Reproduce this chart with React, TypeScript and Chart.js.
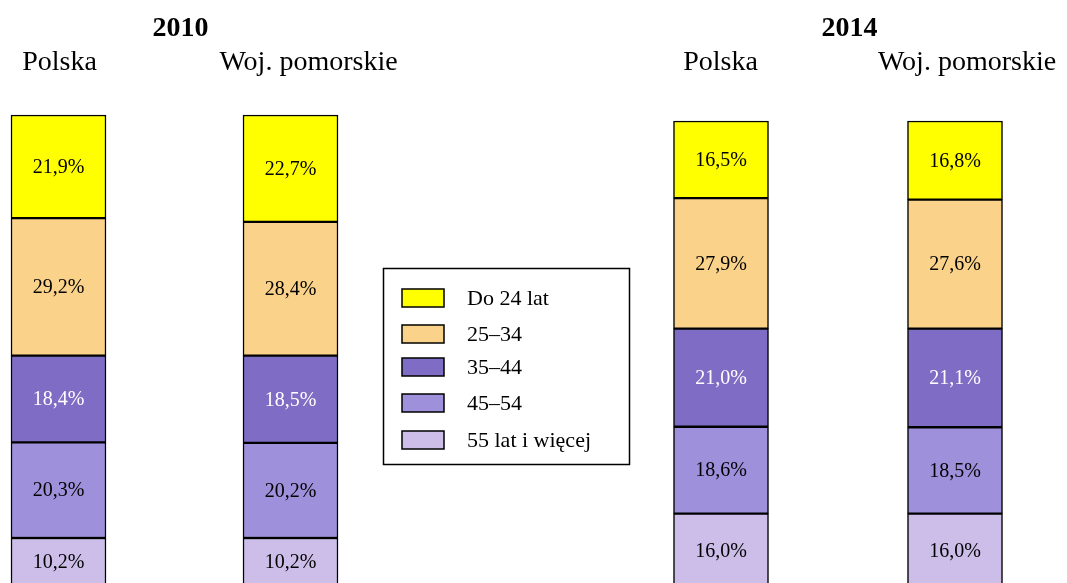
import React, { useEffect, useRef } from "react";
import { Chart, registerables } from "chart.js";

Chart.register(...registerables);

// Data
const ageGroups = ["Do 24 lat", "25–34", "35–44", "45–54", "55 lat i więcej"];
const groupColors = ["#FFFF00", "#FAD28A", "#7F6CC4", "#9E90DA", "#CCBEE8"];
const labelColors = ["#000000", "#000000", "#FFFFFF", "#000000", "#000000"];
const regions = ["Polska", "Woj. pomorskie"];
const years = ["2010", "2014"];
// values per age group: [Polska, Woj. pomorskie]
const values2010 = [
  [21.9, 22.7],
  [29.2, 28.4],
  [18.4, 18.5],
  [20.3, 20.2],
  [10.2, 10.2],
];
const values2014 = [
  [16.5, 16.8],
  [27.9, 27.6],
  [21.0, 21.1],
  [18.6, 18.5],
  [16.0, 16.0],
];

const W = 1067;
const H = 583;
const FONT = '"Liberation Serif", "Times New Roman", serif';
const barX2010 = [58.5, 290.5];
const barX2014 = [721, 955];
const titleX2010 = [59.5, 308.5];
const titleX2014 = [720.5, 967];

const fmt = (v: number) => v.toFixed(1).replace(".", ",") + "%";

const textPlugin = {
  id: "textPlugin",
  afterDatasetsDraw(chart: any) {
    const ctx = chart.ctx as CanvasRenderingContext2D;
    ctx.save();
    // data labels
    ctx.font = `20px ${FONT}`;
    ctx.textAlign = "center";
    ctx.textBaseline = "middle";
    chart.data.datasets.forEach((ds: any, di: number) => {
      const meta = chart.getDatasetMeta(di);
      meta.data.forEach((el: any, i: number) => {
        const v = ds.data[i].y;
        const cy = (el.y + el.base) / 2;
        ctx.fillStyle = ds.labelColor;
        ctx.fillText(fmt(v), el.x, cy + 1);
      });
    });
    // titles
    ctx.fillStyle = "#000";
    ctx.textBaseline = "alphabetic";
    ctx.font = `bold 28px ${FONT}`;
    ctx.fillText(years[0], 180.5, 36);
    ctx.fillText(years[1], 849.5, 36);
    ctx.font = `28px ${FONT}`;
    regions.forEach((r, i) => {
      ctx.fillText(r, titleX2010[i], 70);
      ctx.fillText(r, titleX2014[i], 70);
    });
    // legend
    ctx.lineWidth = 1.5;
    ctx.strokeStyle = "#000";
    ctx.fillStyle = "#FFFFFF";
    ctx.fillRect(383.5, 268.5, 246, 196);
    ctx.strokeRect(383.5, 268.5, 246, 196);
    const rowY = [298, 334, 367, 403, 440];
    ctx.font = `22px ${FONT}`;
    ctx.textAlign = "left";
    ctx.textBaseline = "middle";
    ageGroups.forEach((g, i) => {
      ctx.fillStyle = groupColors[i];
      ctx.fillRect(402, rowY[i] - 9, 42, 18);
      ctx.strokeRect(402, rowY[i] - 9, 42, 18);
      ctx.fillStyle = "#000";
      ctx.fillText(g, 467, rowY[i] + 1);
    });
    ctx.restore();
  },
};

export default function App() {
  const ref = useRef<HTMLCanvasElement | null>(null);
  useEffect(() => {
    if (!ref.current) return;
    const datasets: any[] = [];
    // bottom-most first
    for (let gi = ageGroups.length - 1; gi >= 0; gi--) {
      datasets.push({
        label: ageGroups[gi] + " 2010",
        data: barX2010.map((x, i) => ({ x, y: values2010[gi][i] })),
        backgroundColor: groupColors[gi],
        borderColor: "#000",
        borderWidth: 1.5,
        borderSkipped: false,
        barThickness: 95,
        yAxisID: "y",
        labelColor: labelColors[gi],
      });
    }
    for (let gi = ageGroups.length - 1; gi >= 0; gi--) {
      datasets.push({
        label: ageGroups[gi] + " 2014",
        data: barX2014.map((x, i) => ({ x, y: values2014[gi][i] })),
        backgroundColor: groupColors[gi],
        borderColor: "#000",
        borderWidth: 1.5,
        borderSkipped: false,
        barThickness: 95,
        yAxisID: "y2",
        labelColor: labelColors[gi],
      });
    }
    const chart = new Chart(ref.current, {
      type: "bar",
      data: { datasets },
      options: {
        responsive: false,
        animation: false,
        devicePixelRatio: 1,
        layout: { padding: 0 },
        plugins: { legend: { display: false }, tooltip: { enabled: false } },
        scales: {
          x: { type: "linear", min: 0, max: W, offset: false, stacked: true, display: false },
          y: { type: "linear", min: 0.637, max: 124.42, stacked: true, display: false },
          y2: { type: "linear", min: 1.176, max: 125.89, stacked: true, display: false },
        },
      } as any,
      plugins: [textPlugin],
    });
    return () => chart.destroy();
  }, []);
  return (
    <div style={{ position: "fixed", left: 0, top: 0, width: W, height: H, background: "#fff" }}>
      <canvas ref={ref} width={W} height={H} style={{ display: "block" }} />
    </div>
  );
}
